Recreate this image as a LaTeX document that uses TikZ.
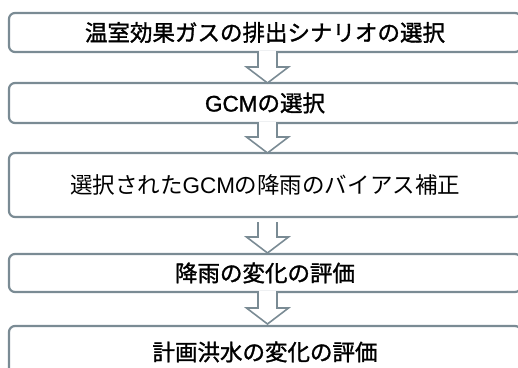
\documentclass[tikz,border=0pt]{standalone}
\usepackage{fontspec}
\setmainfont{Noto Sans CJK JP}
\newfontfamily\lat{Liberation Sans}
\newfontfamily\jpbold[FakeBold=1.3]{Noto Sans CJK JP}
\newfontfamily\latbold[FakeBold=1.3]{Liberation Sans}
\usetikzlibrary{calc}
\definecolor{edge}{RGB}{122,139,148}
\tikzset{
  stepbox/.style={draw=edge, line width=2.2pt, rounded corners=6pt, minimum width=512pt, inner sep=0pt, font=\fontsize{22.5}{26}\selectfont, text=black},
  flowarrow/.style={draw=edge, fill=white, line width=1.6pt, line join=miter}
}
\newcommand{\downarrowshape}[3]{% from, to, start offset
  \draw[flowarrow] ($(#1)+(-9.5,#3)$) -- ($(#2)+(-9.5,-16)$) -- ($(#2)+(-21,-16)$) -- (#2) -- ($(#2)+(21,-16)$) -- ($(#2)+(9.5,-16)$) -- ($(#1)+(9.5,#3)$);
}
\begin{document}
\begin{tikzpicture}[x=1pt,y=-1pt]
\clip (0,0) rectangle (518,367);
\useasboundingbox (0,0) rectangle (518,367);
\node[stepbox, minimum height=39pt] (b1) at (265,32.5) {\jpbold 温室効果ガスの排出シナリオの選択};
\node[stepbox, minimum height=40pt] (b2) at (265,103) {{\latbold GCM}\jpbold の選択};
\node[stepbox, minimum height=64pt] (b3) at (265,185) {選択された{\lat GCM}の降雨のバイアス補正};
\node[stepbox, minimum height=38pt] (b4) at (265,273) {\jpbold 降雨の変化の評価};
\node[stepbox, minimum height=60pt] (b5) at (265,356) {};
\node[font=\fontsize{22.5}{26}\selectfont\jpbold, inner sep=0pt] (t5) at (265,352) {計画洪水の変化の評価};
\coordinate (a1s) at (267.5,52); \coordinate (a1e) at (267.5,83);
\coordinate (a2s) at (267.5,123); \coordinate (a2e) at (267.5,153);
\coordinate (a3s) at (267.5,217); \coordinate (a3e) at (267.5,253);
\coordinate (a4s) at (267.5,292); \coordinate (a4e) at (267.5,324);
\downarrowshape{a1s}{a1e}{-1}
\downarrowshape{a2s}{a2e}{-1}
\downarrowshape{a3s}{a3e}{5}
\downarrowshape{a4s}{a4e}{-1}
\end{tikzpicture}
\end{document}
